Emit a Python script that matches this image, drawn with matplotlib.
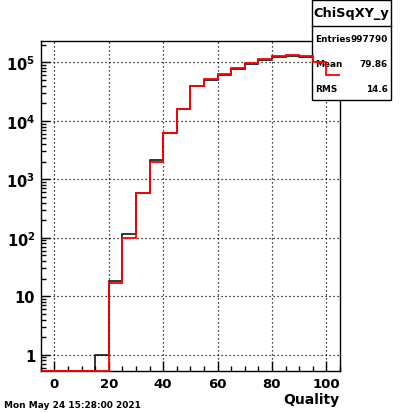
import numpy as np
import matplotlib
matplotlib.use("Agg")
import matplotlib.pyplot as plt
from matplotlib.patches import Rectangle
from matplotlib.lines import Line2D
from matplotlib.ticker import FixedLocator, LogLocator, FuncFormatter, MultipleLocator

# bin edges (width 5) and contents of the two histograms
bin_edges = np.arange(-5, 106, 5)
black_counts = [0, 0, 0, 0, 1, 18, 117, 575, 2110, 6100, 15700, 38900, 49700,
                61400, 78500, 92500, 109000, 122000, 128000, 122000, 101000, 60500]
red_counts = [0, 0, 0, 0, 0, 17, 100, 575, 1950, 6100, 16100, 38900, 51200,
              63800, 78900, 96100, 113000, 127000, 133000, 127000, 102000, 61400]

stats_title = "ChiSqXY_y"
stats_labels = ["Entries", "Mean", "RMS"]
stats_values = ["997790", "79.86", "14.6"]
x_label = "Quality"
date_text = "Mon May 24 15:28:00 2021"

x_major = [0, 20, 40, 60, 80, 100]
y_decades = [1, 10, 100, 1000, 10000, 100000]
xlim = (-5, 105)
ylim = (0.52, 2.35e5)

plt.rcParams["font.family"] = "DejaVu Sans"
plt.rcParams["font.weight"] = "bold"
plt.rcParams["mathtext.default"] = "bf"

fig = plt.figure(figsize=(4.0, 4.14), dpi=100)
ax = fig.add_axes([0.1018, 0.1007, 0.748, 0.7986])
ax.set_yscale("log")
ax.set_xlim(*xlim)
ax.set_ylim(*ylim)

for s in ["left", "bottom", "right", "top"]:
    ax.spines[s].set_linewidth(1.0)

# dotted grid at major ticks
for v in x_major:
    ax.axvline(v, color="black", lw=0.9, ls=(0, (1, 2.2)), zorder=1)
for v in y_decades:
    ax.axhline(v, color="black", lw=0.9, ls=(0, (1, 2.2)), zorder=1)

# empty bins sit on the frame bottom, as ROOT draws them
floor = ylim[0]
b = np.where(np.array(black_counts) > 0, black_counts, floor)
r = np.where(np.array(red_counts) > 0, red_counts, floor)
ax.stairs(b, bin_edges, baseline=None, color="black", lw=1.1, zorder=2, clip_on=False)
ax.stairs(r, bin_edges, baseline=None, color="red", lw=1.3, zorder=5, clip_on=False)

# ticks
ax.xaxis.set_major_locator(FixedLocator(x_major))
ax.xaxis.set_minor_locator(MultipleLocator(5))
ax.yaxis.set_major_locator(FixedLocator(y_decades))
ax.yaxis.set_minor_locator(LogLocator(base=10, subs=np.arange(2, 10), numticks=20))


def ylab(v, pos):
    e = int(round(np.log10(v)))
    if e == 0:
        return "1"
    if e == 1:
        return "10"
    return r"$10^{%d}$" % e


ax.yaxis.set_major_formatter(FuncFormatter(ylab))
ax.tick_params(axis="x", which="major", direction="in", length=7.2, width=1.0,
               pad=4, labelsize=9.5, top=False)
ax.tick_params(axis="x", which="minor", direction="in", length=3.6, width=1.0, top=False)
ax.tick_params(axis="y", which="major", direction="in", length=6.5, width=1.0,
               pad=4, labelsize=10.5, right=False)
ax.tick_params(axis="y", which="minor", direction="in", length=3.4, width=1.0, right=False)
for lbl in ax.get_xticklabels() + ax.get_yticklabels():
    lbl.set_fontweight("bold")

fig.text(339 / 400, 1 - 400 / 414, x_label, ha="right", va="center",
         fontsize=10, fontweight="bold")
fig.text(4 / 400, 1 - 405.5 / 414, date_text, ha="left", va="center",
         fontsize=6.5, fontweight="bold")

# stats box (above black hist, below red hist)
bx0, bx1 = 311.5 / 400, 391 / 400
by_top, by_bot = 1 - 0.8 / 414, 1 - 101 / 414
ax.add_patch(Rectangle((bx0, by_bot), bx1 - bx0, by_top - by_bot,
                       transform=fig.transFigure, facecolor="white",
                       edgecolor="black", lw=1.0, clip_on=False, zorder=3))
ax.add_line(Line2D([bx0, bx1], [1 - 26.7 / 414] * 2, transform=fig.transFigure,
                   color="black", lw=1.0, clip_on=False, zorder=3.5))
ax.text((bx0 + bx1) / 2, 1 - 14 / 414, stats_title, transform=fig.transFigure,
        ha="center", va="center", fontsize=9.3, fontweight="bold", zorder=4,
        clip_on=False)
for i, (lab, val) in enumerate(zip(stats_labels, stats_values)):
    yy = 1 - [40, 64.5, 89.3][i] / 414
    ax.text(315 / 400, yy, lab, transform=fig.transFigure, ha="left",
            va="center", fontsize=6.4, fontweight="bold", zorder=4, clip_on=False)
    ax.text(388 / 400, yy, val, transform=fig.transFigure, ha="right",
            va="center", fontsize=6.4, fontweight="bold", zorder=4, clip_on=False)

fig.savefig("out.png", dpi=100)
